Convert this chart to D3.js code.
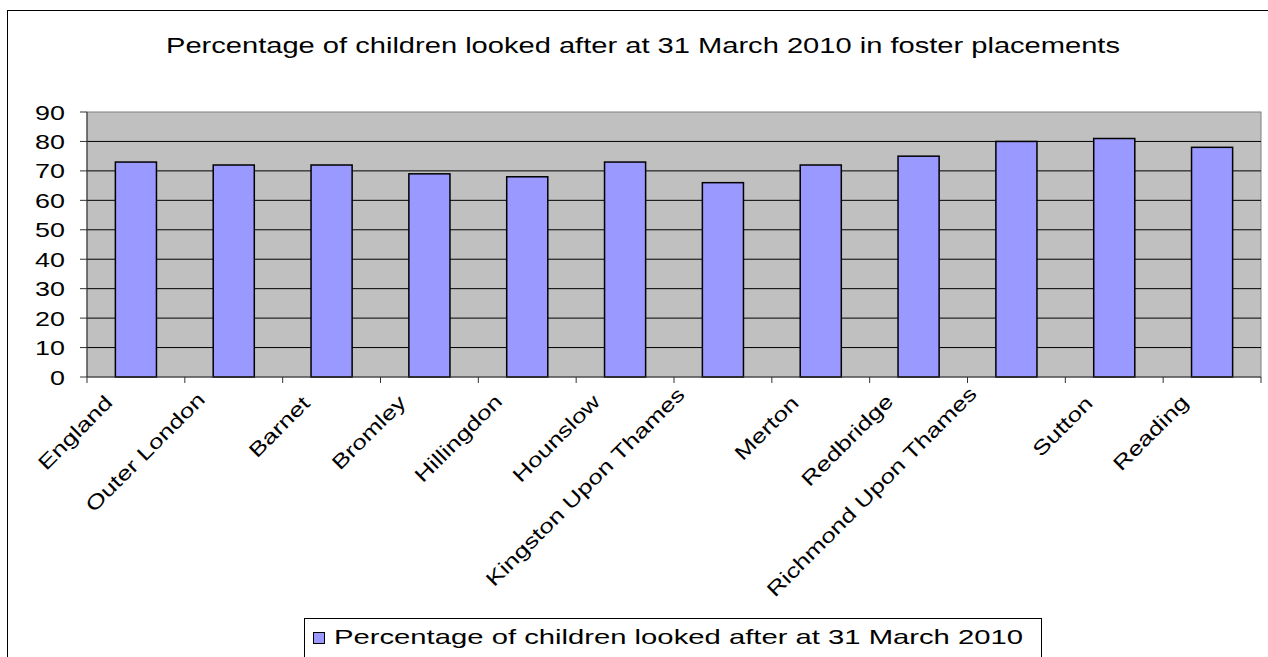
<!DOCTYPE html>
<html><head><meta charset="utf-8">
<script src="https://cdn.jsdelivr.net/npm/d3@7"></script>
<style>body{margin:0;background:#fff;overflow:hidden} svg{display:block;} text{font-family:"Liberation Sans",Arial,sans-serif;fill:#000}</style>
</head><body>
<svg id="c" width="1268" height="657"></svg>
<script>
const categories = ["England","Outer London","Barnet","Bromley","Hillingdon","Hounslow","Kingston Upon Thames","Merton","Redbridge","Richmond Upon Thames","Sutton","Reading"];
const values = [73,72,72,69,68,73,66,72,75,80,81,78];
const yTicks = [0,10,20,30,40,50,60,70,80,90];
const title = "Percentage of children looked after at 31 March 2010 in foster placements";
const seriesName = "Percentage of children looked after at 31 March 2010";

const svg = d3.select("#c");
const L = 87, R = 1261, T = 112, B = 377;
const x = d3.scaleBand().domain(categories).range([L, R]).paddingInner(0.58).paddingOuter(0.29);
const xt = d3.scaleBand().domain(categories).range([L, R]);
const y = d3.scaleLinear().domain([0, 90]).range([B, T]);

// outer frame
svg.append("rect").attr("x", 7.5).attr("y", 10.5).attr("width", 1300).attr("height", 700)
  .attr("fill", "#fff").attr("stroke", "#000").attr("stroke-width", 1);

// title
svg.append("text").attr("x", 166).attr("y", 53).attr("font-size", 22)
  .attr("textLength", 954).attr("lengthAdjust", "spacingAndGlyphs").text(title);

// plot area
svg.append("rect").attr("x", L).attr("y", T).attr("width", R - L).attr("height", B - T)
  .attr("fill", "#C0C0C0").attr("stroke", "#808080").attr("stroke-width", 1);

// gridlines
svg.append("g").selectAll("line").data(yTicks.filter(t => t > 0 && t < 90)).join("line")
  .attr("x1", L).attr("x2", R).attr("y1", d => y(d)).attr("y2", d => y(d))
  .attr("stroke", "#000").attr("stroke-width", 1);

// bars
svg.append("g").selectAll("rect").data(values).join("rect")
  .attr("x", (d, i) => x(categories[i])).attr("width", x.bandwidth())
  .attr("y", d => y(d)).attr("height", d => B - y(d))
  .attr("fill", "#9999FF").attr("stroke", "#000").attr("stroke-width", 1.5);

// y axis
const ya = svg.append("g");
ya.append("line").attr("x1", L).attr("x2", L).attr("y1", T).attr("y2", B).attr("stroke", "#333");
ya.selectAll("line.t").data(yTicks).join("line").attr("class", "t")
  .attr("x1", L - 7).attr("x2", L).attr("y1", d => y(d)).attr("y2", d => y(d)).attr("stroke", "#333");
ya.selectAll("text").data(yTicks).join("text")
  .attr("transform", d => `translate(65,${y(d) + 7.5}) scale(1.28,1)`)
  .attr("text-anchor", "end").attr("font-size", 21).text(d => d);

// x axis
const xa = svg.append("g");
xa.append("line").attr("x1", L).attr("x2", R).attr("y1", B).attr("y2", B).attr("stroke", "#333");
const tickPos = categories.map(c => xt(c)).concat([R]);
xa.selectAll("line.t").data(tickPos).join("line").attr("class", "t")
  .attr("x1", d => d).attr("x2", d => d).attr("y1", B).attr("y2", B + 6).attr("stroke", "#333");
const SX = 1.3;
xa.selectAll("text").data(categories).join("text")
  .attr("text-anchor", "end").attr("font-size", 20).text(d => d)
  .each(function (d) {
    const len = this.getComputedTextLength() * SX;
    const ax = xt(d) + xt.bandwidth() / 2 - 14 - 0.085 * len;
    const ay = B + 31 - 0.045 * len;
    d3.select(this).attr("transform", `translate(${ax},${ay}) rotate(-45) scale(${SX},1)`);
  });

// legend
const lg = svg.append("g");
lg.append("rect").attr("x", 304.5).attr("y", 618.5).attr("width", 737).attr("height", 60)
  .attr("fill", "#fff").attr("stroke", "#000");
lg.append("rect").attr("x", 313.5).attr("y", 632.5).attr("width", 11).attr("height", 11)
  .attr("fill", "#9999FF").attr("stroke", "#000");
lg.append("text").attr("x", 334).attr("y", 644).attr("font-size", 21)
  .attr("textLength", 689).attr("lengthAdjust", "spacingAndGlyphs").text(seriesName);
</script>
</body></html>
